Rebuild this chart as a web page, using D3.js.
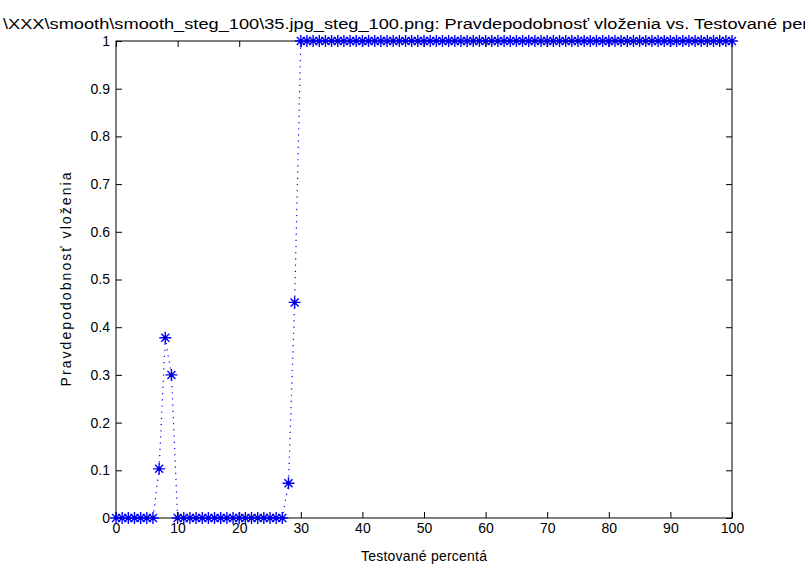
<!DOCTYPE html>
<html>
<head>
<meta charset="utf-8">
<script src="https://cdn.jsdelivr.net/npm/d3@7"></script>
<style>
  body { margin: 0; background: #fff; }
  text { font-family: "Liberation Sans", Arial, sans-serif; fill: #000; }
</style>
</head>
<body>
<script>
// tested percentages 0..100
var percent = d3.range(0, 101);
// probability of embedding (0..29), then 1 from 30 on
var probLow = [0, 0, 0, 0, 0, 0, 0, 0.103, 0.378, 0.30,
               0, 0, 0, 0, 0, 0, 0, 0, 0, 0,
               0, 0, 0, 0, 0, 0, 0, 0, 0.073, 0.452];
var probability = percent.map(function(p) { return p < probLow.length ? probLow[p] : 1; });

var xTicks = [0, 10, 20, 30, 40, 50, 60, 70, 80, 90, 100];
var yTicks = [0, 0.1, 0.2, 0.3, 0.4, 0.5, 0.6, 0.7, 0.8, 0.9, 1];

var titleText = "\\XXX\\smooth\\smooth_steg_100\\35.jpg_steg_100.png: Pravdepodobnosť vloženia vs. Testované percentá";
var xLabel = "Testované percentá";
var yLabel = "Pravdepodobnosť vloženia";

var W = 805, H = 575;
var margin = {left: 116, right: 73, top: 41, bottom: 57};
var width = W - margin.left - margin.right,
    height = H - margin.top - margin.bottom;

var svg = d3.select("body").append("svg")
    .attr("width", W).attr("height", H);
var g = svg.append("g")
    .attr("transform", "translate(" + margin.left + "," + margin.top + ")");

var x = d3.scaleLinear().domain([0, 100]).range([0, width]);
var y = d3.scaleLinear().domain([0, 1]).range([height, 0]);

// box
g.append("rect")
    .attr("width", width).attr("height", height)
    .attr("fill", "none").attr("stroke", "#000").attr("stroke-width", 1);

function styleAxis(sel) {
    sel.select(".domain").remove();
    sel.selectAll("line").attr("stroke", "#000");
    sel.selectAll("text").style("font-size", "14px");
}

// bottom & left axes, ticks pointing inward
g.append("g").attr("transform", "translate(0," + height + ")")
    .call(d3.axisBottom(x).tickValues(xTicks).tickSize(-6).tickFormat(d3.format("d")))
    .call(styleAxis)
    .selectAll("text").attr("y", 5).attr("dy", "0.71em");
g.append("g")
    .call(d3.axisLeft(y).tickValues(yTicks).tickSize(-6).tickFormat(function(d) { return d3.format("")(+d.toFixed(1)); }))
    .call(styleAxis)
    .selectAll("text").attr("x", -6);
// top & right tick marks
g.append("g")
    .call(d3.axisTop(x).tickValues(xTicks).tickSize(-6).tickFormat(""))
    .call(styleAxis);
g.append("g").attr("transform", "translate(" + width + ",0)")
    .call(d3.axisRight(y).tickValues(yTicks).tickSize(-6).tickFormat(""))
    .call(styleAxis);

// dotted line
var line = d3.line()
    .x(function(d, i) { return x(percent[i]); })
    .y(function(d) { return y(d); });
g.append("path")
    .datum(probability)
    .attr("d", line)
    .attr("fill", "none")
    .attr("stroke", "#0000ff")
    .attr("stroke-width", 1.2)
    .attr("stroke-dasharray", "1.2,5");

// asterisk markers
var s = 6, t = 4;
var marks = g.append("g").selectAll("g")
    .data(probability)
    .enter().append("g")
    .attr("transform", function(d, i) { return "translate(" + x(percent[i]) + "," + y(d) + ")"; });
marks.append("path")
    .attr("d", "M" + (-s) + ",0H" + s + "M0," + (-s) + "V" + s +
               "M" + (-t) + "," + (-t) + "L" + t + "," + t +
               "M" + (-t) + "," + t + "L" + t + "," + (-t))
    .attr("stroke", "#0000ff")
    .attr("stroke-width", 1.4)
    .attr("fill", "none");
marks.append("circle").attr("r", 2).attr("fill", "#0000cc");

// title and labels
svg.append("text")
    .attr("x", 3).attr("y", 29)
    .attr("textLength", 850)
    .attr("lengthAdjust", "spacingAndGlyphs")
    .style("font-size", "14px")
    .text(titleText);
svg.append("text")
    .attr("x", margin.left + width / 2).attr("y", 561)
    .attr("text-anchor", "middle")
    .attr("textLength", 126)
    .style("font-size", "14px")
    .text(xLabel);
svg.append("text")
    .attr("transform", "translate(71," + (margin.top + height / 2) + ") rotate(-90)")
    .attr("text-anchor", "middle")
    .attr("textLength", 214)
    .style("font-size", "14px")
    .text(yLabel);
</script>
</body>
</html>
